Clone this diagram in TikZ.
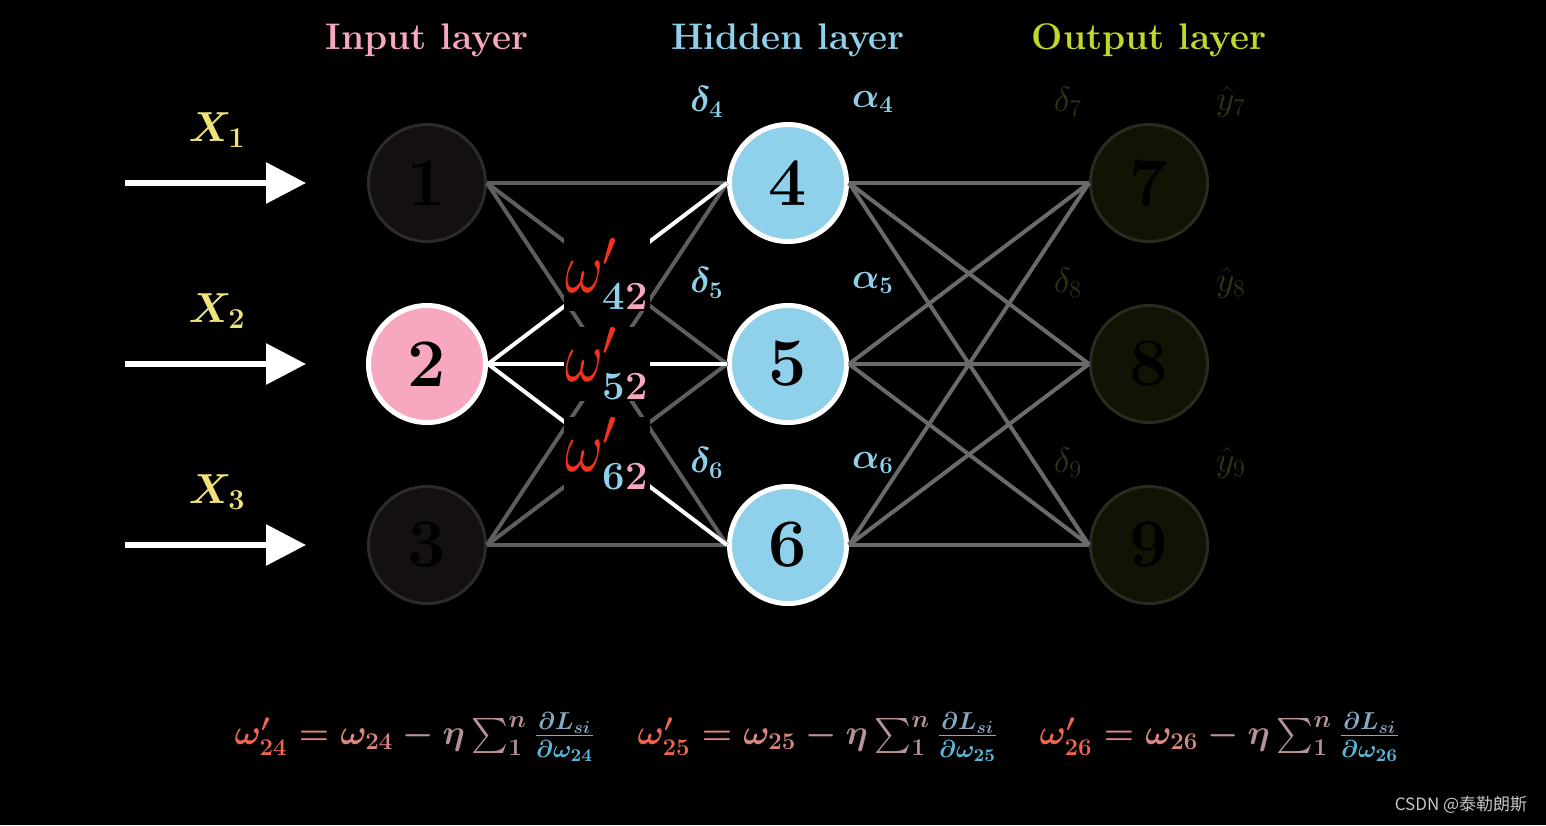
\documentclass[tikz,border=0pt]{standalone}
\usepackage{amsmath,amssymb,bm}
\usepackage{fontspec}
\newfontfamily\cjkfont{Noto Sans CJK SC}
\DeclareFontShape{OML}{cmm}{m}{it}{<-7.5>cmmi7<7.5->cmmi10}{}
\DeclareFontShape{OML}{cmm}{b}{it}{<-7.5>cmmib7<7.5->cmmib10}{}
\DeclareFontShape{OMS}{cmsy}{m}{n}{<-7.5>cmsy7<7.5->cmsy10}{}
\DeclareFontShape{OMS}{cmsy}{b}{n}{<-7.5>cmbsy7<7.5->cmbsy10}{}
\usetikzlibrary{arrows.meta}
\definecolor{inp}{HTML}{F7A8BE}
\definecolor{hid}{HTML}{8FD0EA}
\definecolor{outc}{HTML}{C2D62C}
\definecolor{xcol}{HTML}{F0E27A}
\definecolor{dead}{HTML}{141012}
\definecolor{deadrim}{HTML}{2C2A2B}
\definecolor{outfill}{HTML}{121305}
\definecolor{outrim}{HTML}{2A2B1E}
\definecolor{faint}{HTML}{303413}
\definecolor{wire}{HTML}{5E5E5E}
\definecolor{wire2}{HTML}{6A6A6A}
\definecolor{wred}{HTML}{F2321C}
\definecolor{wnew}{HTML}{EE6550}
\definecolor{wold}{HTML}{D9887E}
\definecolor{etac}{HTML}{B69496}
\definecolor{gtop}{HTML}{86AAC2}
\definecolor{gbot}{HTML}{5AB7D6}
\tikzset{px/.style={x=.5pt,y=-.5pt},
  neuron/.style={circle,minimum size=58.5pt,inner sep=0pt,line width=2.5pt,font=\fontsize{34}{34}\selectfont\bfseries},
  edge/.style={wire,line width=2pt},
  feed/.style={white,line width=3pt,-{Triangle[length=20pt,width=20pt]}},
  title/.style={font=\fontsize{18.5}{18.5}\selectfont\bfseries},
  xlab/.style={xcol,font=\fontsize{21}{21}\selectfont\boldmath},
  hlab/.style={hid,font=\fontsize{18}{18}\selectfont\boldmath},
  olab/.style={faint,font=\fontsize{17.5}{17.5}\selectfont},
  wlab/.style={fill=black,inner sep=.5pt,text=wred,font=\fontsize{36}{36}\selectfont},
  eq/.style={font=\fontsize{17.5}{17.5}\selectfont\boldmath},
  wm/.style={text=gray!45,font=\cjkfont\fontsize{8.5}{8.5}\selectfont}}
\newcommand\wsub[1]{\hbox{\fontsize{20}{20}\selectfont\bfseries\color{hid}#1\color{inp}2}}

\begin{document}
\begin{tikzpicture}[px]
  \fill[black] (0,0) rectangle (1546,825);
  % layer titles
  \node[title,text=inp] (tin) at (427,40) {Input layer};
  \node[title,text=hid] (thid) at (788,40) {Hidden layer};
  \node[title,text=outc] (tout) at (1149,40) {Output layer};
  % neurons
  \node[neuron,fill=dead,draw=deadrim,line width=1.5pt] (n1) at (427,183) {1};
  \node[neuron,fill=inp,draw=white] (n2) at (427,364) {2};
  \node[neuron,fill=dead,draw=deadrim,line width=1.5pt] (n3) at (427,545) {3};
  \foreach \i/\y in {4/183,5/364,6/545}{\node[neuron,fill=hid,draw=white] (n\i) at (788,\y) {\i};}
  \foreach \i/\y in {7/183,8/364,9/545}{\node[neuron,fill=outfill,draw=outrim,line width=1.5pt] (n\i) at (1149,\y) {\i};}
  % inputs
  \foreach \i/\y in {1/183,2/364,3/545}{
    \coordinate (s\i) at (125,\y); \coordinate (t\i) at (306,\y);
    \draw[feed] (s\i)--(t\i);
    \node[xlab] (x\i) at (217,{\y-53}) {$X_{\i}$};
  }
  % weights
  \foreach \a in {1,3}{\foreach \b in {4,5,6}{\draw[edge] (n\a.east)--(n\b.west);}}
  \foreach \b in {4,5,6}{\draw[edge,white] (n2.east)--(n\b.west);}
  \foreach \a in {4,5,6}{\foreach \b in {7,8,9}{\draw[edge,wire2] (n\a.east)--(n\b.west);}}
  \foreach \h/\y in {4/274,5/364,6/454}{\node[wlab] (w\h) at (607,\y) {$\scalebox{.8}[1]{$\omega$}'_{\wsub{\h}}$};}
  % deltas and activations
  \foreach \i/\y in {4/102,5/283,6/463}{
    \node[hlab] (d\i) at (707,\y) {$\delta_{\i}$};
    \node[hlab] (a\i) at (873,\y) {$\alpha_{\i}$};
  }
  \foreach \i/\y in {7/102,8/283,9/463}{
    \node[olab] (d\i) at (1068,\y) {$\delta_{\i}$};
    \node[olab] (y\i) at (1231,\y) {$\hat{y}_{\i}$};
  }
  % update rules
  \foreach \k/\x in {4/415,5/818,6/1220}{
    \node[eq] (f\k) at (\x,737) {$\color{wnew}\omega'_{2\k}\color{wold}=\omega_{2\k}\color{etac}-\eta\sum_1^n\color{gtop}\frac{\partial L_{si}}{\color{gbot}\partial\omega_{2\k}}$};
  }
  \node[wm] (mark) at (1461,805) {CSDN @泰勒朗斯};
\end{tikzpicture}
\end{document}
